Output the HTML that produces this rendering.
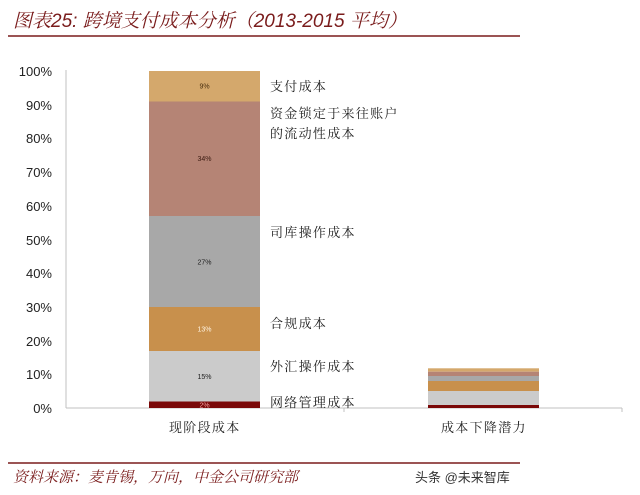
<!DOCTYPE html>
<html><head><meta charset="utf-8"><style>
html,body{margin:0;padding:0;background:#fff;}
body{width:640px;height:495px;overflow:hidden;}
svg{display:block;}
.t{font-family:"Liberation Sans","Noto Serif CJK SC",serif;font-style:italic;fill:#7a1c1c;}
.y{font-family:"Liberation Sans","Noto Sans CJK SC",sans-serif;font-size:13px;fill:#222;}
.c{font-family:"Liberation Serif","Noto Serif CJK SC",serif;font-size:13px;fill:#222;letter-spacing:1.3px;}
.d{font-family:"Liberation Sans",sans-serif;font-size:7px;text-anchor:middle;}
</style></head><body>
<svg width="640" height="495" viewBox="0 0 640 495" xmlns="http://www.w3.org/2000/svg">
<text class="t" x="13" y="27" font-size="19">图表25: 跨境支付成本分析（2013-2015 平均）</text>
<line x1="8" y1="36" x2="520" y2="36" stroke="#7a1c1c" stroke-width="1.5"/>

<!-- y ticks -->
<g class="y" text-anchor="end">
<text x="52" y="76">100%</text>
<text x="52" y="110">90%</text>
<text x="52" y="143">80%</text>
<text x="52" y="177">70%</text>
<text x="52" y="211">60%</text>
<text x="52" y="245">50%</text>
<text x="52" y="278">40%</text>
<text x="52" y="312">30%</text>
<text x="52" y="346">20%</text>
<text x="52" y="379">10%</text>
<text x="52" y="413">0%</text>
</g>
<line x1="66" y1="70" x2="66" y2="408" stroke="#c0c0c0" stroke-width="1"/>
<line x1="66" y1="408" x2="622" y2="408" stroke="#c0c0c0" stroke-width="1"/>
<line x1="344" y1="408" x2="344" y2="412" stroke="#c0c0c0" stroke-width="1"/>
<line x1="622" y1="408" x2="622" y2="412" stroke="#c0c0c0" stroke-width="1"/>

<!-- bar 1 -->
<rect x="149" y="71" width="111" height="30.5" fill="#d4a86c"/>
<rect x="149" y="101.5" width="111" height="114.5" fill="#b58475"/>
<rect x="149" y="216" width="111" height="91" fill="#a8a8a8"/>
<rect x="149" y="307" width="111" height="44" fill="#c8904c"/>
<rect x="149" y="351" width="111" height="50.5" fill="#cbcbcb"/>
<rect x="149" y="401.5" width="111" height="6.5" fill="#7a0808"/>
<text class="d" x="204.5" y="88.5" fill="#4a3010">9%</text>
<text class="d" x="204.5" y="161" fill="#3a1a10">34%</text>
<text class="d" x="204.5" y="264.5" fill="#222">27%</text>
<text class="d" x="204.5" y="331.5" fill="#fff3e0">13%</text>
<text class="d" x="204.5" y="379" fill="#222">15%</text>
<text class="d" x="204.5" y="407.5" fill="#f0a0a0">2%</text>

<!-- bar 2 -->
<rect x="428" y="368.3" width="111" height="3.4" fill="#d4a86c"/>
<rect x="428" y="371.7" width="111" height="4.3" fill="#b58475"/>
<rect x="428" y="376" width="111" height="5" fill="#a8a8a8"/>
<rect x="428" y="381" width="111" height="10" fill="#c8904c"/>
<rect x="428" y="391" width="111" height="14" fill="#cbcbcb"/>
<rect x="428" y="405" width="111" height="3" fill="#7a0808"/>

<!-- labels -->
<g class="c">
<text x="270" y="91">支付成本</text>
<text x="270" y="118">资金锁定于来往账户</text>
<text x="270" y="138">的流动性成本</text>
<text x="270" y="237">司库操作成本</text>
<text x="270" y="328">合规成本</text>
<text x="270" y="371">外汇操作成本</text>
<text x="270" y="407">网络管理成本</text>
<text x="169" y="432">现阶段成本</text>
<text x="441" y="432">成本下降潜力</text>
</g>

<line x1="8" y1="463" x2="520" y2="463" stroke="#7a1c1c" stroke-width="1.5"/>
<text class="t" x="13" y="482" font-size="15">资料来源：麦肯锡，万向，中金公司研究部</text>
<text x="415" y="482" font-family="'Liberation Sans','Noto Sans CJK SC',sans-serif" font-size="13" fill="#333">头条 @未来智库</text>
</svg>
</body></html>
